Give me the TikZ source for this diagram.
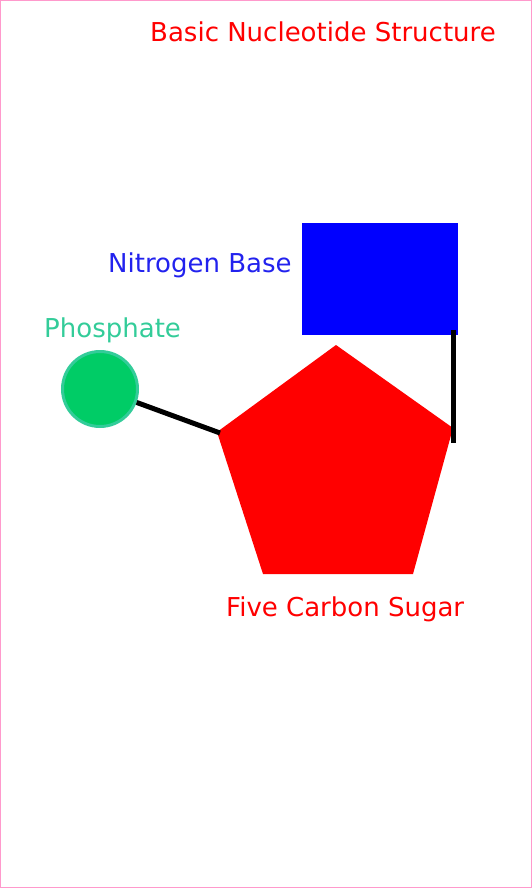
\documentclass[tikz,border=0pt]{standalone}
\usepackage{fontspec}
\newfontfamily\labelfont{DejaVu Sans}
\definecolor{framepink}{HTML}{FF99CC}
\definecolor{sugarred}{HTML}{FF0000}
\definecolor{baseblue}{HTML}{0000FF}
\definecolor{textblue}{HTML}{2222EE}
\definecolor{phosgreen}{HTML}{00CC66}
\definecolor{phosedge}{HTML}{33CC99}
\tikzset{
  lbl/.style={anchor=base west, inner sep=0pt, font=\labelfont\fontsize{26}{30}\selectfont},
  bond/.style={line width=5pt, black},
}
\begin{document}
\begin{tikzpicture}[x=1pt,y=-1pt]
\useasboundingbox (0,0) rectangle (532,888);
\draw[framepink, line width=1.2pt] (0.6,0.6) rectangle (531.4,887.4);
% title
\node[lbl, text=sugarred] (title) at (150,42) {Basic Nucleotide Structure};
% nitrogen base
\node[fill=baseblue, draw=none, inner sep=0pt, minimum width=156pt, minimum height=112pt, anchor=north west] (base) at (302,223) {};
\node[lbl, text=textblue] (baselbl) at (108,272) {Nitrogen Base};
% phosphate
\node[circle, fill=phosgreen, draw=phosedge, line width=3pt, minimum size=75pt, inner sep=0pt] (phos) at (100,389) {};
\node[lbl, text=phosedge] (phoslbl) at (44,337) {Phosphate};
% sugar
\coordinate (pT) at (336,345);
\coordinate (pR) at (453,428);
\coordinate (pBR) at (413,574);
\coordinate (pBL) at (263,574);
\coordinate (pL) at (217,432);
\fill[sugarred] (pT) -- (pR) -- (pBR) -- (pBL) -- (pL) -- cycle;
\node[lbl, text=sugarred] (sugarlbl) at (226,616) {Five Carbon Sugar};
% bonds
\coordinate (bTop) at (453,330);
\coordinate (bBot) at (453,443);
\coordinate (bEnd) at (220,433);
\draw[bond] (phos) -- (bEnd);
\draw[bond] (bTop) -- (bBot);
\end{tikzpicture}
\end{document}
